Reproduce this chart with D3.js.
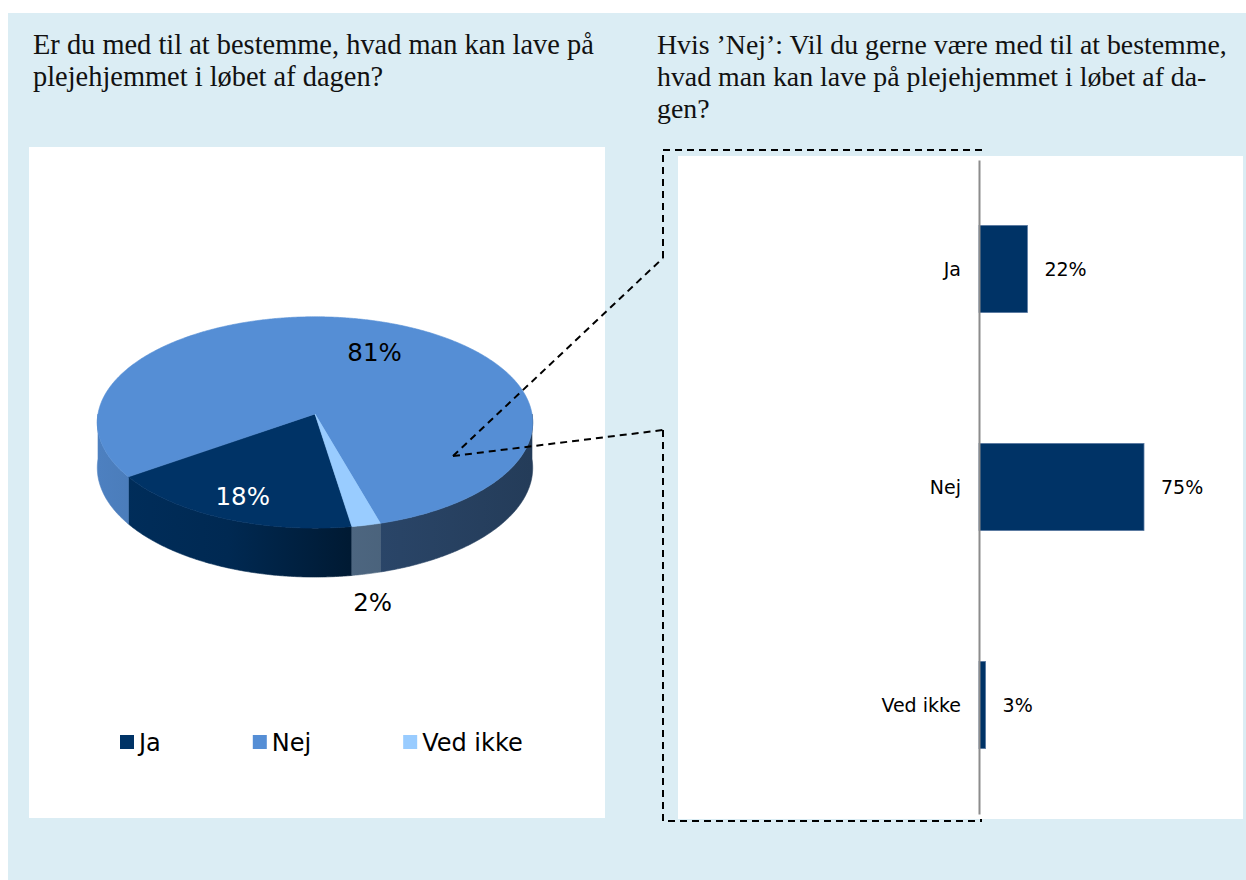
<!DOCTYPE html>
<html><head><meta charset="utf-8">
<script src="https://cdn.jsdelivr.net/npm/d3@7"></script>
<style>body{margin:0;background:#fff;} svg{display:block}</style>
</head><body><svg id="c" width="1246" height="880"></svg>
<script>
// ---------- data ----------
const pieCategories = ["Ja", "Nej", "Ved ikke"];
const pieValues = [18, 81, 2];
const pieColors = ["#003366", "#558ED5", "#99CCFF"];
const barCategories = ["Ja", "Nej", "Ved ikke"];
const barValues = [22, 75, 3];
const barColor = "#003366";
const title1 = ["Er du med til at bestemme, hvad man kan lave på", "plejehjemmet i løbet af dagen?"];
const title2 = ["Hvis ’Nej’: Vil du gerne være med til at bestemme,", "hvad man kan lave på plejehjemmet i løbet af da-", "gen?"];

const svg = d3.select("#c");
const defs = svg.append("defs");
svg.append("rect").attr("x", 8).attr("y", 13).attr("width", 1238).attr("height", 867).attr("fill", "#DBEDF4");

// ---------- titles ----------
const serif = "'Liberation Serif', 'DejaVu Serif', serif";
function fitSize(text, target) {
  const probe = svg.append("text").attr("font-family", serif).attr("font-size", 100).text(text);
  const w = probe.node().getComputedTextLength();
  probe.remove();
  return Math.min(30, 100 * target / w);
}
function drawTitle(lines, x, y0, size) {
  const t = svg.append("text").attr("font-family", serif).attr("font-size", size).attr("fill", "#111");
  lines.forEach((l, i) => t.append("tspan").attr("x", x).attr("y", y0 + i * 32).text(l));
}
drawTitle(title1, 33, 54, fitSize(title1[0], 561));
drawTitle(title2, 657, 54, fitSize(title2[0], 570));

// ---------- panels ----------
svg.append("rect").attr("x", 29).attr("y", 147).attr("width", 576).attr("height", 671).attr("fill", "#fff");

// dashed bracket (behind right panel)
const dash = svg.append("g").attr("fill", "none").attr("stroke", "#000").attr("stroke-width", 2).attr("stroke-dasharray", "7,5");
dash.append("path").attr("d", "M663,258V150H981V175");
dash.append("path").attr("d", "M663,430V821H981V800");

svg.append("rect").attr("x", 678).attr("y", 156).attr("width", 565).attr("height", 663).attr("fill", "#fff");

// ---------- 3D pie ----------
const P = { cx: 315, cy: 414, rx: 217, ry: 105, p: 0.08, depth: 45 };
function proj(theta, k = 1, dz = 0) {
  const u = k * Math.sin(theta), v = -k * Math.cos(theta);
  const s = 1 / (1 - P.p * v);
  return [P.cx + P.rx * u * s, P.cy + P.ry * v * s + dz * s];
}
function arcPts(a0, a1, dz = 0) {
  const n = Math.max(2, Math.ceil(Math.abs(a1 - a0) / (Math.PI / 360)));
  return d3.range(n + 1).map(i => proj(a0 + (a1 - a0) * i / n, 1, dz));
}
const deg = Math.PI / 180;
const start = 171 * deg;
const pie = d3.pie().sort(null).startAngle(start).endAngle(start + 2 * Math.PI);
const arcs = pie(pieValues);

// side gradients
const shade = [[0, 0.9], [0.3, 0.8], [0.58, 0.5], [1, 0.42]];
arcs.forEach((a, i) => {
  const g = defs.append("linearGradient").attr("id", "side" + i)
    .attr("gradientUnits", "userSpaceOnUse").attr("x1", P.cx - P.rx).attr("x2", P.cx + P.rx).attr("y1", 0).attr("y2", 0);
  const c = d3.rgb(pieColors[i]);
  shade.forEach(([o, f]) => g.append("stop").attr("offset", o)
    .attr("stop-color", d3.rgb(c.r * f, c.g * f, c.b * f).formatHex()));
});

const line = d3.line();
const sides = svg.append("g");
arcs.forEach((a, i) => {
  [0, 1].forEach(n => {
    const lo = Math.max(a.startAngle, Math.PI / 2 + 2 * Math.PI * n);
    const hi = Math.min(a.endAngle, 3 * Math.PI / 2 + 2 * Math.PI * n);
    if (hi > lo) {
      const top = arcPts(lo, hi), bot = arcPts(hi, lo, P.depth);
      sides.append("path").attr("d", line(top.concat(bot)) + "Z")
        .attr("fill", `url(#side${i})`).attr("stroke", `url(#side${i})`).attr("stroke-width", 0.6);
    }
  });
});
const tops = svg.append("g");
arcs.forEach((a, i) => {
  const pts = [[P.cx, P.cy]].concat(arcPts(a.startAngle, a.endAngle));
  tops.append("path").attr("d", line(pts) + "Z").attr("fill", pieColors[i])
    .attr("stroke", pieColors[i]).attr("stroke-width", 0.6);
});

// pie labels
const sans = "'DejaVu Sans', Verdana, sans-serif";
const labelCfg = [{ k: 0.8, dz: 0, dx: 0, fill: "#fff" }, { k: 0.66, dz: 0, dx: 14, fill: "#000" }, { k: 1.22, dz: P.depth, dx: -6, fill: "#000" }];
arcs.forEach((a, i) => {
  const c = labelCfg[i];
  const [x, y] = proj((a.startAngle + a.endAngle) / 2, c.k, c.dz);
  svg.append("text").attr("x", x + c.dx).attr("y", y).attr("dy", "0.36em")
    .attr("text-anchor", "middle").attr("font-family", sans)
    .attr("font-size", 24.5).attr("fill", c.fill).text(a.value + "%");
});

// legend
let lx = 120;
pieCategories.forEach((cat, i) => {
  svg.append("rect").attr("x", lx).attr("y", 735).attr("width", 14).attr("height", 14).attr("fill", pieColors[i]);
  const t = svg.append("text").attr("x", lx + 19).attr("y", 751).attr("font-family", sans).attr("font-size", 24)
    .attr("fill", "#000").text(cat);
  lx += 19 + t.node().getComputedTextLength() + 92;
});

// connectors
const conn = svg.append("g").attr("fill", "none").attr("stroke", "#000").attr("stroke-width", 2).attr("stroke-dasharray", "7,5");
conn.append("path").attr("d", "M453,456L663,258");
conn.append("path").attr("d", "M453,456L663,430");

// ---------- bar chart ----------
const x = d3.scaleLinear().domain([0, 100]).range([979, 1199]);
const y = d3.scaleBand().domain(barCategories).range([160, 814]).paddingInner(0.6).paddingOuter(0.3);
svg.append("g").selectAll("rect").data(barValues).join("rect")
  .attr("x", x(0)).attr("y", (d, i) => y(barCategories[i]))
  .attr("width", d => x(d) - x(0)).attr("height", y.bandwidth())
  .attr("fill", barColor).attr("stroke", "#5a7aa2").attr("stroke-width", 0.8);
svg.append("g").selectAll("text").data(barValues).join("text")
  .attr("x", d => x(d) + 17).attr("y", (d, i) => y(barCategories[i]) + y.bandwidth() / 2)
  .attr("dy", "0.38em").attr("font-family", sans).attr("font-size", 19).attr("fill", "#000")
  .text(d => d + "%");
const ax = svg.append("g").attr("transform", `translate(${x(0)},0)`)
  .call(d3.axisLeft(y).tickSize(0).tickSizeOuter(0).tickPadding(18));
ax.select(".domain").attr("stroke", "#8c8c8c").attr("stroke-width", 2);
ax.selectAll("text").attr("font-family", sans).attr("font-size", 19).attr("fill", "#000").attr("dy", "0.38em");
</script>
</body></html>
